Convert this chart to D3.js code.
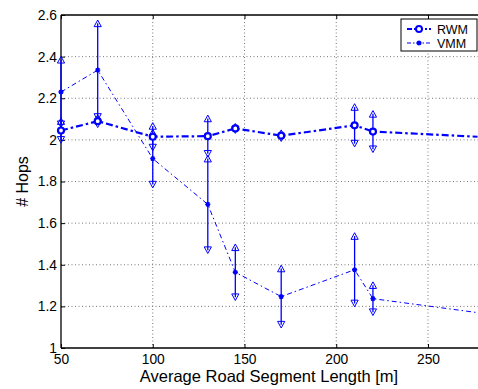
<!DOCTYPE html>
<html><head><meta charset="utf-8">
<script src="https://cdn.jsdelivr.net/npm/d3@7/dist/d3.min.js"></script>
<style>body{margin:0;background:#fff}svg{display:block}text{font-family:"Liberation Sans",Arial,sans-serif;fill:#000}</style>
</head><body><svg id="c" width="478" height="389"></svg>
<script>
const xs = [50, 70, 100, 130, 145, 170, 210, 220, 277];
const rwm = [2.045, 2.09, 2.015, 2.018, 2.055, 2.02, 2.07, 2.04, 2.015];
const rwmErr = [0.045, 0.015, 0.052, 0.085, 0.008, 0.012, 0.088, 0.085, null];
const vmm = [2.23, 2.335, 1.91, 1.69, 1.364, 1.247, 1.376, 1.237, 1.17];
const vmmErr = [0.155, 0.225, 0.125, 0.22, 0.12, 0.135, 0.162, 0.065, null];
const xTicks = [50, 100, 150, 200, 250];
const yTicks = [1, 1.2, 1.4, 1.6, 1.8, 2, 2.2, 2.4, 2.6];
const seriesNames = ["RWM", "VMM"];

const svg = d3.select("#c");
const L = 61, R = 478, T = 15, B = 348;
const x = d3.scaleLinear().domain([50, 277.25]).range([L, R]);
const y = d3.scaleLinear().domain([1, 2.6]).range([B, T]);
const blue = "#0000ff";

svg.append("defs").append("clipPath").attr("id", "clip")
  .append("rect").attr("x", 0).attr("y", 0).attr("width", R).attr("height", 389);

// grid
const grid = svg.append("g").attr("stroke", "#777").attr("stroke-dasharray", "1,2.5").attr("stroke-width", 1);
xTicks.slice(1).forEach(t => grid.append("line").attr("x1", x(t)).attr("x2", x(t)).attr("y1", T).attr("y2", B));
yTicks.slice(1, -1).forEach(t => grid.append("line").attr("x1", L).attr("x2", R).attr("y1", y(t)).attr("y2", y(t)));

// axes
const xAxis = svg.append("g").attr("transform", `translate(0,${B})`)
  .call(d3.axisBottom(x).tickValues(xTicks).tickSize(-4).tickPadding(6.5).tickFormat(d3.format("d")));
const xAxisTop = svg.append("g").attr("transform", `translate(0,${T})`)
  .call(d3.axisTop(x).tickValues(xTicks).tickSize(-4).tickFormat(""));
const yAxis = svg.append("g").attr("transform", `translate(${L},0)`)
  .call(d3.axisLeft(y).tickValues(yTicks).tickSize(-4).tickPadding(4).tickFormat(d => d3.format("")(+d.toFixed(1))));
[xAxis, xAxisTop, yAxis].forEach(g => {
  g.select(".domain").attr("stroke", "#000").attr("stroke-width", 1.3);
  g.selectAll(".tick line").attr("stroke", "#000");
  g.selectAll("text").style("font-size", "13.8px").attr("fill", "#000");
});
xAxisTop.select(".domain").attr("d", `M${L},0H${R}`);
xAxis.select(".domain").attr("d", `M${L},0H${R}`);
yAxis.select(".domain").attr("d", `M0,${B}V${T}`);

const plot = svg.append("g").attr("clip-path", "url(#clip)");

function tri(cx, cy, up) {
  const w = 3.6, h = 3.3;
  return up ? `M${cx},${cy - h}L${cx + w},${cy + h}L${cx - w},${cy + h}Z`
            : `M${cx},${cy + h}L${cx + w},${cy - h}L${cx - w},${cy - h}Z`;
}
function star(cx, cy, s) {
  return `M${cx - s},${cy}H${cx + s}M${cx},${cy - s}V${cy + s}M${cx - s * 0.7},${cy - s * 0.7}L${cx + s * 0.7},${cy + s * 0.7}M${cx - s * 0.7},${cy + s * 0.7}L${cx + s * 0.7},${cy - s * 0.7}`;
}

const line = vals => d3.line().x((d, i) => x(xs[i])).y(d => y(d))(vals);

// VMM line
plot.append("path").attr("d", line(vmm)).attr("fill", "none").attr("stroke", blue)
  .attr("stroke-width", 1).attr("stroke-dasharray", "5,3,1.5,3");
// RWM line
plot.append("path").attr("d", line(rwm)).attr("fill", "none").attr("stroke", blue)
  .attr("stroke-width", 2.2).attr("stroke-dasharray", "7,3,2.5,3");

function errorBars(vals, errs) {
  vals.forEach((v, i) => {
    const e = errs[i];
    if (e == null) return;
    const cx = x(xs[i]);
    plot.append("line").attr("x1", cx).attr("x2", cx).attr("y1", y(v + e)).attr("y2", y(v - e))
      .attr("stroke", blue).attr("stroke-width", 1.3);
    plot.append("path").attr("d", tri(cx, y(v + e), true)).attr("fill", "none").attr("stroke", blue).attr("stroke-width", 1);
    plot.append("path").attr("d", tri(cx, y(v - e), false)).attr("fill", "none").attr("stroke", blue).attr("stroke-width", 1);
  });
}
errorBars(vmm, vmmErr);
errorBars(rwm, rwmErr);

// markers
rwm.forEach((v, i) => {
  if (rwmErr[i] == null) return;
  plot.append("circle").attr("cx", x(xs[i])).attr("cy", y(v)).attr("r", 3)
    .attr("fill", "#fff").attr("stroke", blue).attr("stroke-width", 2.2);
});
vmm.forEach((v, i) => {
  if (vmmErr[i] == null) return;
  plot.append("path").attr("d", star(x(xs[i]), y(v), 2.6)).attr("stroke", blue).attr("stroke-width", 1.4);
});

// labels
svg.append("text").attr("x", (136 + 402) / 2).attr("y", 381.5).attr("text-anchor", "middle")
  .style("font-size", "16.5px").text("Average Road Segment Length [m]");
svg.append("text").attr("transform", `translate(28,${(T + B) / 2}) rotate(-90)`).attr("text-anchor", "middle")
  .style("font-size", "16px").text("# Hops");

// legend
const lg = svg.append("g");
lg.append("rect").attr("x", 401).attr("y", 19).attr("width", 76).attr("height", 32)
  .attr("fill", "#fff").attr("stroke", "#000").attr("stroke-width", 1);
const rows = [29, 43];
seriesNames.forEach((n, i) => {
  const yy = rows[i];
  lg.append("line").attr("x1", 407).attr("x2", 431).attr("y1", yy).attr("y2", yy)
    .attr("stroke", blue).attr("stroke-width", i === 0 ? 2 : 1)
    .attr("stroke-dasharray", i === 0 ? "5,2,2,2" : "4,2,1.5,2");
  if (i === 0) lg.append("circle").attr("cx", 419).attr("cy", yy).attr("r", 3).attr("fill", "#fff").attr("stroke", blue).attr("stroke-width", 2);
  else lg.append("path").attr("d", star(419, yy, 2.6)).attr("stroke", blue).attr("stroke-width", 1.4);
  lg.append("text").attr("x", 437).attr("y", yy + 4.5).style("font-size", "12.5px").text(n);
});
</script></body></html>
